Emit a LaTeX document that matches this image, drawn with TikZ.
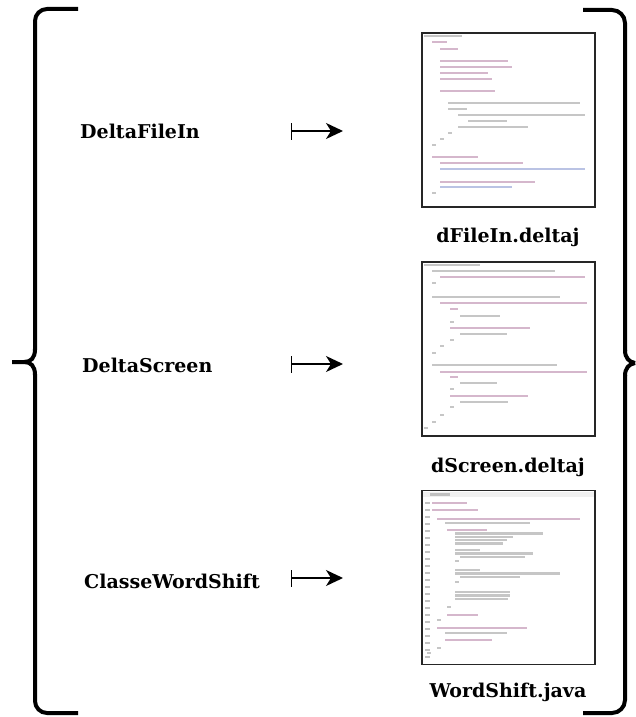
\documentclass[tikz,border=0pt]{standalone}
\usepackage{fontspec}
\setmainfont{DejaVu Serif}
\usetikzlibrary{arrows.meta}
\definecolor{codeK}{RGB}{185,135,170}
\definecolor{codeT}{RGB}{160,160,160}
\definecolor{codeS}{RGB}{140,155,210}
\definecolor{codeN}{RGB}{195,195,195}
\tikzset{
  bracepath/.style={line width=4pt, draw=black},
  lbl/.style={font=\fontsize{19}{22}\selectfont\bfseries, inner sep=0pt, anchor=base west},
  fname/.style={font=\fontsize{19}{22}\selectfont\bfseries, inner sep=0pt, anchor=base},
  codebox/.style={draw=black!85, line width=1.8pt, fill=white, minimum width=173pt, minimum height=174pt, inner sep=0pt},
  maparrow/.style={line width=1.4pt, arrows={Bar[width=17pt,line width=1.4pt]-Stealth[length=17pt,width=16pt,inset=5pt]}},
  cl/.style={line width=2.4pt, opacity=0.6}
}
\newcommand{\cln}[4]{\draw[cl,#4] (#1,#3) -- (#2,#3);}
\begin{document}
\begin{tikzpicture}[x=1pt,y=-1pt]
\useasboundingbox (0,0) rectangle (636,717);
% left brace
\draw[bracepath,rounded corners=12pt] (78,9) -- (35,9) -- (35,350);
\draw[bracepath] (35,349) .. controls (35,358) and (31,362) .. (24,362) -- (12,362);
\draw[bracepath] (24,362) .. controls (31,362) and (35,366) .. (35,375);
\draw[bracepath,rounded corners=12pt] (35,374) -- (35,713) -- (78,713);
% right brace
\draw[bracepath,rounded corners=13pt] (583,10) -- (625,10) -- (625,351);
\draw[bracepath] (625,350) .. controls (625,358) and (629,362) .. (635,363);
\draw[bracepath] (635,363) .. controls (629,364) and (625,368) .. (625,376);
\draw[bracepath,rounded corners=13pt] (625,375) -- (625,713) -- (583,713);
% labels
\node[lbl] (l1) at (80,138) {DeltaFileIn};
\node[lbl] (l2) at (82,372) {DeltaScreen};
\node[lbl] (l3) at (84,588) {ClasseWordShift};
% arrows
\coordinate (s1) at (291,131); \coordinate (e1) at (343,131);
\coordinate (s2) at (291,364); \coordinate (e2) at (343,364);
\coordinate (s3) at (291,578); \coordinate (e3) at (343,578);
\draw[maparrow] (s1) -- (e1);
\draw[maparrow] (s2) -- (e2);
\draw[maparrow] (s3) -- (e3);
% code boxes
\node[codebox] (box1) at (508.5,120) {};
\node[codebox] (box2) at (508.5,349) {};
\node[codebox] (box3) at (508.5,577.5) {};
% box 1 code
\cln{424}{462}{36}{codeT}
\cln{432}{447}{42}{codeK}
\cln{440}{458}{49}{codeK}
\cln{440}{508}{61}{codeK}
\cln{440}{512}{67}{codeK}
\cln{440}{488}{73}{codeK}
\cln{440}{492}{79}{codeK}
\cln{440}{495}{91}{codeK}
\cln{448}{580}{103}{codeT}
\cln{448}{467}{109}{codeT}
\cln{458}{585}{115}{codeT}
\cln{468}{507}{121}{codeT}
\cln{458}{528}{127}{codeT}
\cln{448}{452}{133}{codeT}
\cln{440}{444}{139}{codeT}
\cln{432}{436}{145}{codeT}
\cln{432}{478}{157}{codeK}
\cln{440}{523}{163}{codeK}
\cln{440}{585}{169}{codeS}
\cln{440}{535}{182}{codeK}
\cln{440}{512}{187}{codeS}
\cln{432}{436}{193}{codeT}
% box 2 code
\cln{424}{480}{265}{codeT}
\cln{432}{555}{271}{codeT}
\cln{440}{585}{277}{codeK}
\cln{432}{436}{283}{codeT}
\cln{432}{560}{297}{codeT}
\cln{440}{587}{303}{codeK}
\cln{450}{458}{309}{codeK}
\cln{460}{500}{316}{codeT}
\cln{450}{454}{322}{codeT}
\cln{450}{530}{328}{codeK}
\cln{460}{507}{334}{codeT}
\cln{450}{454}{340}{codeT}
\cln{440}{444}{346}{codeT}
\cln{432}{436}{353}{codeT}
\cln{432}{557}{365}{codeT}
\cln{440}{587}{372}{codeK}
\cln{450}{458}{377}{codeK}
\cln{460}{497}{383}{codeT}
\cln{450}{454}{389}{codeT}
\cln{450}{528}{396}{codeK}
\cln{460}{508}{402}{codeT}
\cln{450}{454}{407}{codeT}
\cln{440}{444}{415}{codeT}
\cln{432}{436}{422}{codeT}
\cln{424}{428}{428}{codeT}
% box 3 code
\fill[black!6] (423,492) rectangle (594,497);
\cln{430}{450}{494.5}{codeT}
\foreach \yy in {503,510,...,660} {\draw[line width=1.4pt,codeN] (425,\yy) -- (430,\yy);}
\cln{432}{467}{503}{codeK}
\cln{432}{478}{510}{codeK}
\cln{437}{580}{519}{codeK}
\cln{445}{530}{523}{codeT}
\cln{447}{487}{530}{codeK}
\cln{455}{543}{533.5}{codeT}
\cln{455}{513}{537}{codeT}
\cln{455}{507}{540}{codeT}
\cln{455}{503}{543.5}{codeT}
\cln{455}{480}{550}{codeT}
\cln{455}{533}{553.5}{codeT}
\cln{460}{525}{557}{codeT}
\cln{455}{459}{561}{codeT}
\cln{455}{480}{570}{codeT}
\cln{455}{560}{573.5}{codeT}
\cln{460}{520}{577}{codeT}
\cln{455}{459}{582}{codeT}
\cln{455}{510}{592}{codeT}
\cln{455}{510}{595.5}{codeT}
\cln{455}{508}{599}{codeT}
\cln{447}{451}{607}{codeT}
\cln{447}{478}{615}{codeK}
\cln{437}{441}{620}{codeT}
\cln{437}{527}{628}{codeK}
\cln{445}{507}{633}{codeT}
\cln{445}{492}{640}{codeK}
\cln{437}{441}{648}{codeT}
\cln{427}{431}{653}{codeT}
% file names
\node[fname] (f1) at (508,242) {dFileIn.deltaj};
\node[fname] (f2) at (508,472) {dScreen.deltaj};
\node[fname] (f3) at (508,697) {WordShift.java};
\end{tikzpicture}
\end{document}
